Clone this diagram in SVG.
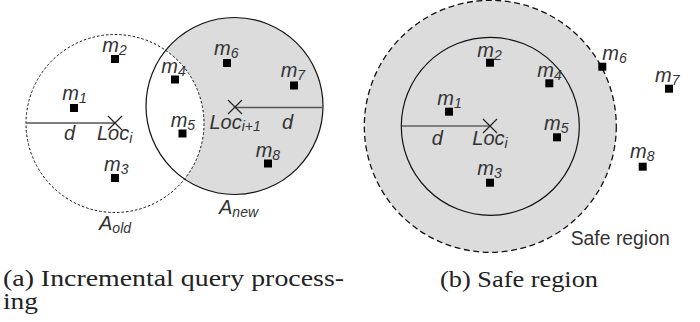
<svg xmlns="http://www.w3.org/2000/svg" width="700" height="322" viewBox="0 0 700 322">
<style>
.lbl{font-family:"Liberation Sans",Arial,sans-serif;font-style:italic;font-size:20px;fill:#333}
.sub{font-size:14px}
.cap{font-family:"Liberation Serif","Times New Roman",serif;font-size:23px;fill:#222}
.pt{fill:#000}
.cross{stroke:#222;stroke-width:1.2;fill:none}
</style>
<defs>
<rect id="sq" x="-4" y="-4" width="8" height="8" class="pt"/>
</defs>
<g id="fig-a">
  <g id="regions-a">
    <circle cx="234.5" cy="106" r="88.5" fill="#dcdcdc"/>
    <circle cx="115" cy="123.5" r="89" fill="#fff"/>
    <circle cx="234.5" cy="106" r="88.5" fill="none" stroke="#111" stroke-width="1.2"/>
    <circle cx="115" cy="123.5" r="89" fill="none" stroke="#111" stroke-width="1" stroke-dasharray="2.5,2"/>
  </g>
  <g id="connectors-a">
    <line x1="26" y1="123" x2="115" y2="123" stroke="#555" stroke-width="1.6"/>
    <line x1="235" y1="107.5" x2="323" y2="107.5" stroke="#555" stroke-width="1.6"/>
  </g>
  <g id="loc-i-a">
    <path class="cross" d="M108,116 L122,130 M108,130 L122,116"/>
    <text class="lbl" x="97" y="140">Loc<tspan class="sub" dy="3">i</tspan></text>
  </g>
  <g id="loc-i1-a">
    <path class="cross" d="M228,100 L242,114 M228,114 L242,100"/>
    <text class="lbl" x="209.5" y="128.5">Loc<tspan class="sub" dy="2">i+1</tspan></text>
  </g>
  <text class="lbl" x="64" y="140">d</text>
  <text class="lbl" x="282" y="128.5">d</text>
  <g id="a-m1"><use href="#sq" x="74" y="108"/><text class="lbl" x="62.3" y="100">m<tspan class="sub" dy="3">1</tspan></text></g>
  <g id="a-m2"><use href="#sq" x="115" y="59"/><text class="lbl" x="102.3" y="51.7">m<tspan class="sub" dy="3">2</tspan></text></g>
  <g id="a-m3"><use href="#sq" x="115" y="178"/><text class="lbl" x="104" y="170.7">m<tspan class="sub" dy="3">3</tspan></text></g>
  <g id="a-m4"><use href="#sq" x="175" y="79.5"/><text class="lbl" x="161.3" y="73.3">m<tspan class="sub" dy="3">4</tspan></text></g>
  <g id="a-m5"><use href="#sq" x="182.5" y="133.5"/><text class="lbl" x="170.7" y="127">m<tspan class="sub" dy="3">5</tspan></text></g>
  <g id="a-m6"><use href="#sq" x="227" y="63"/><text class="lbl" x="214" y="55">m<tspan class="sub" dy="3">6</tspan></text></g>
  <g id="a-m7"><use href="#sq" x="294" y="85.5"/><text class="lbl" x="280.7" y="76.7">m<tspan class="sub" dy="3">7</tspan></text></g>
  <g id="a-m8"><use href="#sq" x="268" y="163.5"/><text class="lbl" x="255.7" y="156.7">m<tspan class="sub" dy="3">8</tspan></text></g>
  <text class="lbl" x="219" y="214">A<tspan class="sub" dy="3">new</tspan></text>
  <text class="lbl" x="99" y="230">A<tspan class="sub" dy="3">old</tspan></text>
  <text class="cap" x="3" y="285.5" textLength="341" lengthAdjust="spacingAndGlyphs">(a) Incremental query process-</text>
  <text class="cap" x="3" y="309" textLength="35" lengthAdjust="spacingAndGlyphs">ing</text>
</g>
<g id="fig-b">
  <g id="regions-b">
    <circle cx="490.3" cy="126.3" r="126" fill="#dcdcdc" stroke="#111" stroke-width="1.3" stroke-dasharray="6,3.5"/>
    <circle cx="490.3" cy="126.3" r="89" fill="none" stroke="#111" stroke-width="1.2"/>
  </g>
  <g id="connectors-b">
    <line x1="401.3" y1="126" x2="490" y2="126" stroke="#222" stroke-width="1.2"/>
  </g>
  <g id="loc-i-b">
    <path class="cross" d="M483,119 L497,133 M483,133 L497,119"/>
    <text class="lbl" x="472.3" y="145">Loc<tspan class="sub" dy="3">i</tspan></text>
  </g>
  <text class="lbl" x="431.7" y="145">d</text>
  <g id="b-m1"><use href="#sq" x="449" y="111.7"/><text class="lbl" x="437.3" y="105">m<tspan class="sub" dy="3">1</tspan></text></g>
  <g id="b-m2"><use href="#sq" x="490" y="62.7"/><text class="lbl" x="477.3" y="56.7">m<tspan class="sub" dy="3">2</tspan></text></g>
  <g id="b-m3"><use href="#sq" x="490" y="182.7"/><text class="lbl" x="477.3" y="175">m<tspan class="sub" dy="3">3</tspan></text></g>
  <g id="b-m4"><use href="#sq" x="549.3" y="83.3"/><text class="lbl" x="537.3" y="76.7">m<tspan class="sub" dy="3">4</tspan></text></g>
  <g id="b-m5"><use href="#sq" x="557" y="137.3"/><text class="lbl" x="544" y="130">m<tspan class="sub" dy="3">5</tspan></text></g>
  <g id="b-m6"><use href="#sq" x="602.3" y="66.7"/><text class="lbl" x="602.3" y="60">m<tspan class="sub" dy="3">6</tspan></text></g>
  <g id="b-m7"><use href="#sq" x="669" y="88.7"/><text class="lbl" x="655" y="81.7">m<tspan class="sub" dy="3">7</tspan></text></g>
  <g id="b-m8"><use href="#sq" x="642.7" y="166.7"/><text class="lbl" x="630" y="158.3">m<tspan class="sub" dy="3">8</tspan></text></g>
  <text x="570.7" y="245" style="font-family:'Liberation Sans',Arial,sans-serif;font-size:20px;fill:#333" textLength="99" lengthAdjust="spacingAndGlyphs">Safe region</text>
  <text class="cap" x="440" y="286.5" textLength="158" lengthAdjust="spacingAndGlyphs">(b) Safe region</text>
</g>
</svg>
